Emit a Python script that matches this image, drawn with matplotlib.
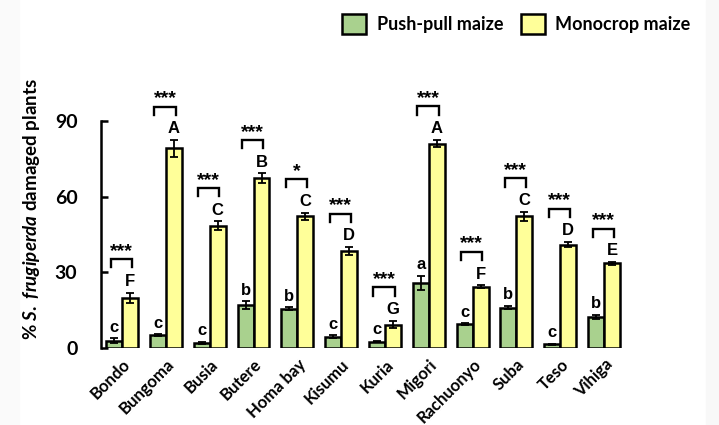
import matplotlib.pyplot as plt
import matplotlib.patches as mpatches
import numpy as np

plt.rcParams['font.family'] = ['Lato', 'DejaVu Sans']
plt.rcParams['font.weight'] = 'bold'
plt.rcParams['mathtext.fontset'] = 'custom'
plt.rcParams['mathtext.it'] = 'Lato:italic:bold'
plt.rcParams['mathtext.rm'] = 'Lato:bold'

# damage levels per district (%), with standard errors
districts = ["Bondo", "Bungoma", "Busia", "Butere", "Homa bay", "Kisumu",
             "Kuria", "Migori", "Rachuonyo", "Suba", "Teso", "Vihiga"]
pushpull = [2.8, 5.0, 2.0, 17.0, 15.5, 4.5, 2.5, 25.7, 9.5, 16.0, 1.5, 12.3]
pushpull_se = [1.0, 0.4, 0.3, 1.5, 0.6, 0.5, 0.3, 2.8, 0.3, 0.6, 0.2, 0.8]
monocrop = [20.0, 79.3, 48.5, 67.5, 52.3, 38.5, 9.3, 81.2, 24.3, 52.3, 41.0, 33.6]
monocrop_se = [2.0, 3.3, 1.8, 1.8, 1.5, 1.5, 1.5, 1.5, 0.6, 1.8, 1.0, 0.5]
pp_letters = ["c", "c", "c", "b", "b", "c", "c", "a", "c", "b", "c", "b"]
mc_letters = ["F", "A", "C", "B", "C", "D", "G", "A", "F", "C", "D", "E"]
stars = ["***", "***", "***", "***", "*", "***", "***", "***", "***", "***", "***", "***"]

green = "#a9d18e"
yellow = "#ffff99"
mark_font = ["Liberation Sans", "DejaVu Sans"]

fig = plt.figure(figsize=(7.19, 4.25), dpi=100)
# faint page edges
fig.patches.append(mpatches.Rectangle((0, 0), 19 / 719, 1, transform=fig.transFigure,
                                      color="#fafafa", zorder=-5))
fig.patches.append(mpatches.Rectangle((706 / 719, 0), 13 / 719, 1, transform=fig.transFigure,
                                      color="#f8f8f8", zorder=-5))

ax = fig.add_axes([101 / 719, 77 / 425, 525 / 719, 277 / 425])

x = np.arange(len(districts))
w = 0.365
err_kw = dict(ecolor="black", elinewidth=1.3, capsize=3, capthick=1.3)
ax.bar(x - w / 2, pushpull, w, color=green, edgecolor="black", linewidth=1.8,
       yerr=pushpull_se, error_kw=err_kw, label="Push-pull maize")
ax.bar(x + w / 2, monocrop, w, color=yellow, edgecolor="black", linewidth=1.8,
       yerr=monocrop_se, error_kw=err_kw, label="Monocrop maize")

for i in range(len(districts)):
    ax.text(x[i] - w / 2, pushpull[i] + pushpull_se[i] + 1.5, pp_letters[i],
            ha="center", va="bottom", fontsize=12, fontweight="bold", family=mark_font)
    top = monocrop[i] + monocrop_se[i]
    ax.text(x[i] + w / 2, top + 1.5, mc_letters[i],
            ha="center", va="bottom", fontsize=12, fontweight="bold", family=mark_font)
    # significance bracket
    x0, x1 = x[i] - w / 2 - 0.08, x[i] + w / 2 + 0.04
    ax.plot([x0, x0, x1, x1], [top + 10, top + 13.3, top + 13.3, top + 10],
            color="black", lw=1.7, solid_joinstyle="miter")
    ax.text((x0 + x1) / 2, top + 13.0, stars[i], ha="center", va="bottom",
            fontsize=14, fontweight="bold", family=mark_font)

ax.set_xlim(-0.48, 11.5)
ax.set_ylim(0, 110)
ax.spines["top"].set_visible(False)
ax.spines["right"].set_visible(False)
ax.spines["bottom"].set_visible(False)
ax.spines["left"].set_bounds(0, 90)
ax.spines["left"].set_linewidth(1.8)
ax.set_yticks([0, 30, 60, 90])
ax.tick_params(axis="y", direction="in", length=5, width=1.8, labelsize=14, pad=17)
ax.tick_params(axis="x", length=0, labelsize=12, pad=6)
ax.set_xticks(x)
ax.set_xticklabels(districts, rotation=45, ha="right", rotation_mode="anchor",
                   fontweight="bold")
for lab in ax.get_yticklabels():
    lab.set_fontweight("bold")
ax.set_ylabel(r"% $\mathit{S.\ frugiperda}$ damaged plants", fontsize=13.5,
              fontweight="bold", labelpad=9)

fig.legend(loc="upper right", bbox_to_anchor=(707 / 719, 1.005), ncol=2, frameon=False,
           handlelength=1.3, handleheight=1.3, columnspacing=1.0,
           handletextpad=0.6, prop={"weight": "bold", "size": 13})

fig.savefig("out.png", dpi=100)
